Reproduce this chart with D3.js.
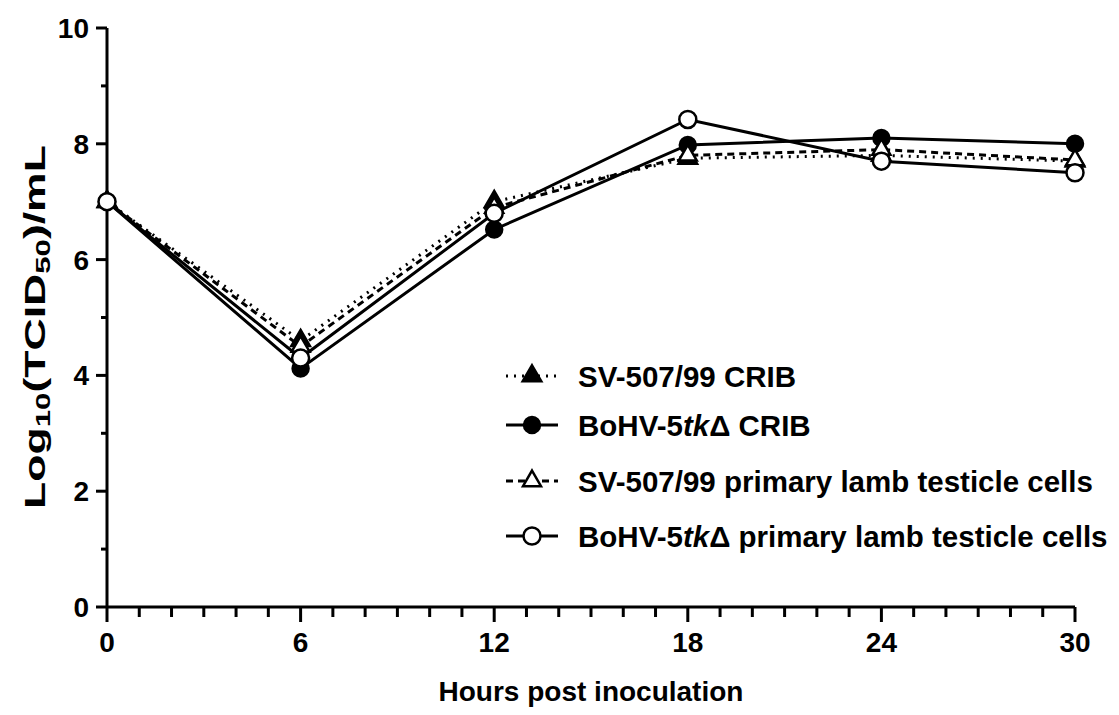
<!DOCTYPE html>
<html>
<head>
<meta charset="utf-8">
<script src="https://cdn.jsdelivr.net/npm/d3@7"></script>
<style>
  body { margin: 0; background: #fff; }
  text { font-family: "Liberation Sans", Arial, sans-serif; font-weight: bold; fill: #000; }
</style>
</head>
<body>
<svg id="chart" width="1119" height="715"></svg>
<script>
// time points (hours post inoculation)
var hours = [0, 6, 12, 18, 24, 30];

// log10 titres
var svCrib = [7.0, 4.6, 7.0, 7.75, 7.8, 7.7];
var bohvCrib = [7.0, 4.12, 6.52, 7.98, 8.1, 8.0];
var svLamb = [7.0, 4.5, 6.9, 7.8, 7.9, 7.72];
var bohvLamb = [7.0, 4.3, 6.8, 8.42, 7.7, 7.5];

var yTicks = [0, 2, 4, 6, 8, 10];
var xTicks = [0, 6, 12, 18, 24, 30];

var series = [
    {name: "SV-507/99 CRIB", values: svCrib, marker: "triangle", filled: true, dash: "2,6"},
    {name: "BoHV-5tkΔ CRIB", values: bohvCrib, marker: "circle", filled: true, dash: null},
    {name: "SV-507/99 primary lamb testicle cells", values: svLamb, marker: "triangle", filled: false, dash: "7,5"},
    {name: "BoHV-5tkΔ primary lamb testicle cells", values: bohvLamb, marker: "circle", filled: false, dash: null}
];

var svg = d3.select("#chart");

var x = d3.scaleLinear().domain([0, 30]).range([107, 1075]);
var y = d3.scaleLinear().domain([0, 10]).range([607, 28]);

// y axis
var yAxis = svg.append("g").attr("transform", "translate(" + x(0) + ",0)");
yAxis.append("line").attr("y1", y(10)).attr("y2", y(0)).attr("stroke", "#000").attr("stroke-width", 3);
yAxis.selectAll(".ymin").data(d3.range(1, 10, 2)).enter().append("line")
    .attr("x1", 0).attr("x2", -6).attr("y1", function(d) { return y(d); }).attr("y2", function(d) { return y(d); })
    .attr("stroke", "#000").attr("stroke-width", 3);
yAxis.selectAll(".ymaj").data(yTicks).enter().append("line")
    .attr("x1", 0).attr("x2", -11).attr("y1", function(d) { return y(d); }).attr("y2", function(d) { return y(d); })
    .attr("stroke", "#000").attr("stroke-width", 3);
yAxis.selectAll(".ylab").data(yTicks).enter().append("text")
    .attr("x", -18).attr("y", function(d) { return y(d); }).attr("dy", "0.36em")
    .attr("text-anchor", "end").attr("font-size", 28).text(function(d) { return d; });

// x axis
var xAxis = svg.append("g").attr("transform", "translate(0," + y(0) + ")");
xAxis.append("line").attr("x1", x(0)).attr("x2", x(30)).attr("stroke", "#000").attr("stroke-width", 3);
xAxis.selectAll(".xmin").data(d3.range(0, 31)).enter().append("line")
    .attr("x1", function(d) { return x(d); }).attr("x2", function(d) { return x(d); })
    .attr("y1", 0).attr("y2", function(d) { return d % 6 === 0 ? 15 : 10; })
    .attr("stroke", "#000").attr("stroke-width", 3);
xAxis.selectAll(".xlab").data(xTicks).enter().append("text")
    .attr("x", function(d) { return x(d); }).attr("y", 45)
    .attr("text-anchor", "middle").attr("font-size", 28)
    .text(function(d) { return d; });

// axis titles
svg.append("text").attr("x", 591).attr("y", 701).attr("text-anchor", "middle")
    .attr("font-size", 28).text("Hours post inoculation");

var yt = svg.append("text").attr("transform", "translate(45,327) rotate(-90)")
    .attr("text-anchor", "middle").attr("font-size", 30)
    .attr("textLength", 364).attr("lengthAdjust", "spacingAndGlyphs");
yt.append("tspan").text("Log");
yt.append("tspan").attr("font-size", 21).attr("dy", 5).text("10");
yt.append("tspan").attr("dy", -5).text("(TCID");
yt.append("tspan").attr("font-size", 21).attr("dy", 5).text("50");
yt.append("tspan").attr("dy", -5).text(")/mL");

// lines
var line = d3.line().x(function(d, i) { return x(hours[i]); }).y(function(d) { return y(d); });

function drawMarker(g, s, cx, cy) {
    var fill = s.filled ? "#000" : "#fff";
    if (s.marker === "circle") {
        g.append("circle").attr("cx", cx).attr("cy", cy).attr("r", s.filled ? 8 : 8.5)
            .attr("fill", fill).attr("stroke", "#000").attr("stroke-width", 2.5);
    } else {
        g.append("path").attr("transform", "translate(" + cx + "," + cy + ")")
            .attr("d", d3.symbol().type(d3.symbolTriangle).size(s.filled ? 150 : 140)())
            .attr("fill", fill).attr("stroke", "#000").attr("stroke-width", 2.5);
    }
}

var plot = svg.append("g");
series.forEach(function(s) {
    plot.append("path").datum(s.values).attr("d", line)
        .attr("fill", "none").attr("stroke", "#000").attr("stroke-width", 3)
        .attr("stroke-dasharray", s.dash);
});
series.forEach(function(s) {
    s.values.forEach(function(v, i) { drawMarker(plot, s, x(hours[i]), y(v)); });
});

// legend
var legendY = [376, 425, 481, 536];
var legend = svg.append("g");
series.forEach(function(s, i) {
    var ly = legendY[i];
    legend.append("line").attr("x1", 506).attr("x2", 558).attr("y1", ly).attr("y2", ly)
        .attr("stroke", "#000").attr("stroke-width", 3).attr("stroke-dasharray", s.dash);
    drawMarker(legend, s, 532, ly);
    var t = legend.append("text").attr("x", 578).attr("y", ly).attr("dy", "0.36em").attr("font-size", 29.5);
    var parts = s.name.split("5tkΔ");
    if (parts.length > 1) {
        t.append("tspan").text(parts[0] + "5");
        t.append("tspan").style("font-style", "italic").text("tk");
        t.append("tspan").text("Δ" + parts[1]);
    } else {
        t.text(s.name);
    }
});
</script>
</body>
</html>
